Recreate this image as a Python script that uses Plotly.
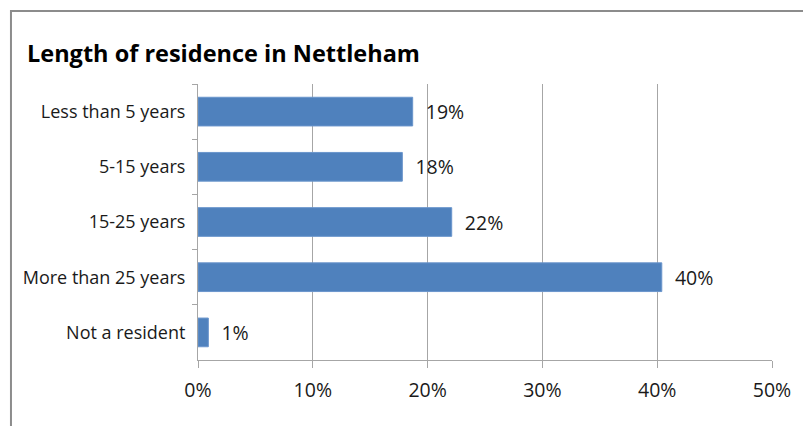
import plotly.graph_objects as go

# Survey: how long respondents have lived in Nettleham
categories = ["Less than 5 years", "5-15 years", "15-25 years",
              "More than 25 years", "Not a resident"]
shares = [18.7, 17.8, 22.1, 40.4, 0.9]          # percent of respondents
x_ticks = [0, 10, 20, 30, 40, 50]
x_tick_labels = ["0%", "10%", "20%", "30%", "40%", "50%"]

W, H = 803, 426
L, R, T, B = 197.5, 27, 84, 66
pw, ph = W - L - R, H - T - B

def px_to_paper_x(px):
    return (px - L) / pw

def px_to_paper_y(py):
    return (H - B - py) / ph

BAR_BLUE = "#4F81BD"
GRID = "#A6A6A6"
TEXT = "#1a1a1a"
FONT = "Open Sans"

fig = go.Figure(
    go.Bar(
        x=shares,
        y=categories,
        orientation="h",
        marker=dict(color=BAR_BLUE, line=dict(color="#6A95CC", width=1)),
        texttemplate="\u00a0\u00a0%{x:.0f}%",
        textposition="outside",
        textfont=dict(family=FONT, size=19.5, color=TEXT),
        cliponaxis=False,
        width=0.52,
    )
)

fig.update_layout(
    width=W,
    height=H,
    margin=dict(l=L, r=R, t=T, b=B, pad=0),
    paper_bgcolor="white",
    plot_bgcolor="white",
    showlegend=False,
    title=dict(
        text="<b>Length of residence in Nettleham</b>",
        x=27 / W, xref="container", xanchor="left",
        y=1 - 54 / H, yref="container", yanchor="middle",
        font=dict(family=FONT, size=23.5, color="#000000"),
    ),
    xaxis=dict(
        range=[0, 50],
        tickvals=x_ticks,
        ticktext=x_tick_labels,
        showgrid=True,
        gridcolor=GRID,
        gridwidth=1,
        showline=True,
        linecolor=GRID,
        linewidth=1,
        ticks="outside",
        ticklen=7,
        tickcolor=GRID,
        ticklabelstandoff=6,
        tickfont=dict(family=FONT, size=19.5, color=TEXT),
        zeroline=False,
        fixedrange=True,
    ),
    yaxis=dict(
        autorange="reversed",
        showgrid=False,
        showline=True,
        linecolor=GRID,
        linewidth=1,
        ticks="outside",
        tickson="boundaries",
        ticklen=5,
        tickcolor=GRID,
        ticklabelstandoff=8,
        tickfont=dict(family=FONT, size=18, color=TEXT),
        fixedrange=True,
    ),
    shapes=[
        # chart frame
        dict(
            type="rect", xref="paper", yref="paper",
            x0=px_to_paper_x(9), x1=px_to_paper_x(W + 20),
            y0=px_to_paper_y(H + 20), y1=px_to_paper_y(11),
            line=dict(color="#8C8C8C", width=2),
            fillcolor="rgba(0,0,0,0)",
            layer="above",
        )
    ],
)

fig.write_html("out.html")
